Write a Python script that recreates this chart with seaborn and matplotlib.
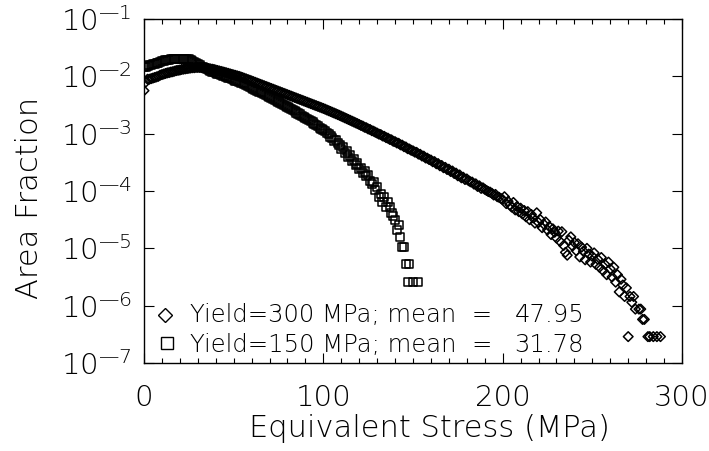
import numpy as np
import pandas as pd
import matplotlib
matplotlib.use("Agg")
import matplotlib.pyplot as plt
import seaborn as sns
from matplotlib import font_manager
from matplotlib.ticker import MultipleLocator, LogLocator, NullFormatter

# ---------------- data ----------------
# Yield = 300 MPa  (diamonds): stress bins 0..274 MPa, then sparse tail
log_frac_300 = [
    -2.25, -2.10, -2.05, -2.05, -2.04, -2.03, -2.02, -2.01, -2.00, -1.98,
    -1.97, -1.96, -1.95, -1.94, -1.935, -1.925, -1.92, -1.91, -1.90, -1.895,
    -1.89, -1.88, -1.875, -1.87, -1.865, -1.86, -1.855, -1.85, -1.85, -1.845,
    -1.845, -1.845, -1.848, -1.85, -1.855, -1.86, -1.865, -1.87, -1.875, -1.88,
    -1.89, -1.898, -1.906, -1.914, -1.922, -1.93, -1.939, -1.948, -1.957, -1.966,
    -1.975, -1.983, -1.992, -2.00, -2.011, -2.022, -2.034, -2.045, -2.057, -2.068,
    -2.08, -2.092, -2.104, -2.116, -2.128, -2.14, -2.152, -2.164, -2.176, -2.188,
    -2.20, -2.212, -2.224, -2.236, -2.248, -2.26, -2.272, -2.284, -2.296, -2.308,
    -2.32, -2.332, -2.344, -2.356, -2.368, -2.38, -2.392, -2.404, -2.416, -2.428,
    -2.44, -2.452, -2.464, -2.476, -2.488, -2.50, -2.512, -2.524, -2.536, -2.548,
    -2.56, -2.573, -2.587, -2.60, -2.613, -2.627, -2.64, -2.653, -2.667, -2.68,
    -2.695, -2.709, -2.724, -2.738, -2.753, -2.767, -2.782, -2.796, -2.811, -2.825,
    -2.84, -2.857, -2.868, -2.888, -2.897, -2.918, -2.926, -2.948, -2.957, -2.975,
    -2.99, -3.008, -3.016, -3.04, -3.047, -3.07, -3.078, -3.10, -3.108, -3.133,
    -3.14, -3.162, -3.168, -3.195, -3.20, -3.228, -3.232, -3.262, -3.268, -3.29,
    -3.30, -3.322, -3.326, -3.356, -3.36, -3.39, -3.392, -3.424, -3.428, -3.452,
    -3.46, -3.49, -3.488, -3.525, -3.522, -3.56, -3.555, -3.594, -3.588, -3.625,
    -3.62, -3.66, -3.652, -3.695, -3.688, -3.735, -3.72, -3.77, -3.76, -3.80,
    -3.79, -3.82, -3.84, -3.845, -3.88, -3.875, -3.92, -3.91, -3.955, -3.945,
    -3.97, -3.99, -4.01, -4.02, -4.04, -4.07, -4.06, -4.10, -4.11, -4.13,
    -4.15, -4.10, -4.22, -4.18, -4.24, -4.28, -4.20, -4.33, -4.27, -4.36,
    -4.30, -4.40, -4.34, -4.45, -4.36, -4.50, -4.41, -4.47, -4.56, -4.38,
    -4.55, -4.50, -4.64, -4.58, -4.54, -4.68, -4.62, -4.76, -4.66, -4.72,
    -4.82, -4.70, -4.88, -4.71, -4.95, -5.07, -5.12, -4.86, -4.80, -4.96,
    -4.90, -5.04, -4.92, -5.15, -4.98, -5.05, -5.20, -5.00, -5.10, -5.24,
    -5.14, -5.08, -5.28, -5.19, -5.33, -5.16, -5.39, -5.28, -5.46, -5.24,
    -5.36, -5.50, -5.33, -5.59, -5.46, -5.76, -5.54, -5.64, -5.84, -5.69,
    -6.54, -5.84, -5.94, -5.84, -6.06,
]
stress_300_tail = [276, 277, 278, 279, 281, 282, 284, 286, 288]
log_frac_300_tail = [-6.06, -6.06, -6.24, -6.24, -6.54, -6.54, -6.54, -6.54, -6.54]

# Yield = 150 MPa  (squares): stress bins 0..145 MPa, then sparse tail
log_frac_150 = [
    -1.84, -1.83, -1.82, -1.81, -1.80, -1.79, -1.78, -1.77, -1.76, -1.75,
    -1.74, -1.73, -1.72, -1.715, -1.71, -1.705, -1.70, -1.70, -1.695, -1.69,
    -1.69, -1.69, -1.69, -1.695, -1.70, -1.705, -1.72, -1.735, -1.75, -1.77,
    -1.79, -1.81, -1.83, -1.845, -1.86, -1.875, -1.89, -1.90, -1.915, -1.93,
    -1.94, -1.952, -1.964, -1.976, -1.988, -2.00, -2.012, -2.024, -2.036, -2.048,
    -2.06, -2.072, -2.084, -2.096, -2.108, -2.12, -2.136, -2.152, -2.168, -2.184,
    -2.20, -2.216, -2.232, -2.248, -2.264, -2.28, -2.297, -2.314, -2.331, -2.349,
    -2.366, -2.383, -2.40, -2.417, -2.435, -2.452, -2.47, -2.487, -2.505, -2.522,
    -2.54, -2.558, -2.576, -2.594, -2.612, -2.63, -2.648, -2.666, -2.684, -2.702,
    -2.72, -2.74, -2.762, -2.784, -2.806, -2.828, -2.85, -2.872, -2.894, -2.916,
    -2.94, -2.96, -2.99, -3.01, -3.05, -3.07, -3.12, -3.11, -3.17, -3.19,
    -3.26, -3.24, -3.33, -3.30, -3.40, -3.38, -3.47, -3.45, -3.55, -3.52,
    -3.62, -3.60, -3.68, -3.66, -3.74, -3.72, -3.82, -3.88, -3.84, -3.98,
    -3.93, -4.11, -4.05, -4.19, -4.11, -4.28, -4.19, -4.28, -4.38, -4.44,
    -4.51, -4.68, -4.59, -4.81, -4.98, -4.98,
]
stress_150_tail = [146, 147, 148, 150, 153]
log_frac_150_tail = [-5.28, -5.59, -5.28, -5.59, -5.59]

legend_labels = ["Yield=300 MPa; mean  =", "Yield=150 MPa; mean  ="]
legend_means = ["47.95", "31.78"]

x_ticks = [0, 100, 200, 300]
y_tick_exponents = [-7, -6, -5, -4, -3, -2, -1]

# ---------------- tables ----------------
stress_300 = np.concatenate([np.arange(len(log_frac_300)), stress_300_tail])
frac_300 = 10.0 ** np.array(log_frac_300 + log_frac_300_tail)
stress_150 = np.concatenate([np.arange(len(log_frac_150)), stress_150_tail])
frac_150 = 10.0 ** np.array(log_frac_150 + log_frac_150_tail)

df300 = pd.DataFrame({"stress": stress_300, "fraction": frac_300})
df150 = pd.DataFrame({"stress": stress_150, "fraction": frac_150})

# ---------------- style ----------------
sns.set_style("ticks")


def pick_font():
    entries = [(f.name, f.weight) for f in font_manager.fontManager.ttflist]

    def has(name, weights):
        for n, w in entries:
            if n == name and (w in weights):
                return True
        return False

    if has("DejaVu Sans", [200, "extra-light", "ultralight"]):
        return "DejaVu Sans", 200
    if has("Open Sans", [300, "light"]):
        return "Open Sans", 300
    if has("Roboto", [300, "light"]):
        return "Roboto", 300
    if has("Lato", [300, "light"]):
        return "Lato", 300
    return "DejaVu Sans", 400


FONT, WEIGHT = pick_font()
plt.rcParams["font.family"] = [FONT, "DejaVu Sans"]
plt.rcParams["font.weight"] = WEIGHT
plt.rcParams["axes.labelweight"] = WEIGHT
plt.rcParams["mathtext.fontset"] = "custom"
wname = {200: "extralight", 300: "light", 400: "normal"}[WEIGHT]
plt.rcParams["mathtext.rm"] = f"{FONT}:{wname}"
plt.rcParams["mathtext.it"] = f"{FONT}:{wname}"
plt.rcParams["mathtext.bf"] = f"{FONT}:{wname}"
plt.rcParams["axes.unicode_minus"] = True
for key in ["text.color", "axes.labelcolor", "xtick.color", "ytick.color",
            "xtick.labelcolor", "ytick.labelcolor", "axes.edgecolor"]:
    plt.rcParams[key] = "black"

fig = plt.figure(figsize=(7.09, 4.51), dpi=100)
fig.patch.set_facecolor("white")
ax = fig.add_axes([144 / 709, (451 - 363) / 451, 538 / 709, 344 / 451])
ax.set_facecolor("white")

sns.scatterplot(data=df300, x="stress", y="fraction", marker="D", s=24,
                color="black", facecolor="none", edgecolor="black",
                linewidth=1.1, ax=ax, legend=False, zorder=3)
sns.scatterplot(data=df150, x="stress", y="fraction", marker="s", s=34,
                color="black", facecolor="none", edgecolor="black",
                linewidth=1.1, ax=ax, legend=False, zorder=3)

ax.set_yscale("log")
ax.set_ylim(1e-7, 1e-1)
ax.set_xlim(0, 300)

ax.set_xticks(x_ticks)
ax.set_xticklabels([str(v) for v in x_ticks])
ax.xaxis.set_minor_locator(MultipleLocator(10))

ax.set_yticks([10.0 ** e for e in y_tick_exponents])
ax.set_yticklabels([r"$\mathregular{10^{—%d}}$" % (-e) for e in y_tick_exponents])
ax.yaxis.set_minor_locator(LogLocator(base=10, subs=np.arange(2, 10)))
ax.yaxis.set_minor_formatter(NullFormatter())

for sp in ax.spines.values():
    sp.set_linewidth(1.0)
    sp.set_color("black")

ax.tick_params(which="both", direction="in", top=True, right=True,
               color="black", width=0.8, labelcolor="black")
ax.tick_params(which="major", length=7.5)
ax.tick_params(which="minor", length=3.5)
ax.tick_params(axis="x", which="major", labelsize=21, pad=15)
ax.tick_params(axis="y", which="major", labelsize=21, pad=9)

ax.set_xlabel("Equivalent Stress (MPa)", fontsize=22, color="black",
              fontweight=WEIGHT)
ax.set_ylabel("Area Fraction", fontsize=22, color="black", fontweight=WEIGHT)
ax.xaxis.set_label_coords(0.53, -0.19)
ax.yaxis.set_label_coords(-0.213, 0.48)
ax.xaxis.label.set_va("center")
ax.yaxis.label.set_va("center")

# legend drawn IDL-style inside the axes
ax.plot([0.039], [0.140], marker="D", ms=7, mfc="none", mec="black",
        mew=1.0, transform=ax.transAxes, clip_on=False, linestyle="none")
ax.plot([0.043], [0.058], marker="s", ms=8.5, mfc="none", mec="black",
        mew=1.0, transform=ax.transAxes, clip_on=False, linestyle="none")
for yy, lab, mean in zip([0.119, 0.032], legend_labels, legend_means):
    ax.text(0.0855, yy, lab, transform=ax.transAxes, fontsize=17.5,
            ha="left", va="baseline", color="black", fontweight=WEIGHT)
    ax.text(0.818, yy, mean, transform=ax.transAxes, fontsize=17.5,
            ha="right", va="baseline", color="black", fontweight=WEIGHT)

fig.savefig("out.png", dpi=100, facecolor="white")
